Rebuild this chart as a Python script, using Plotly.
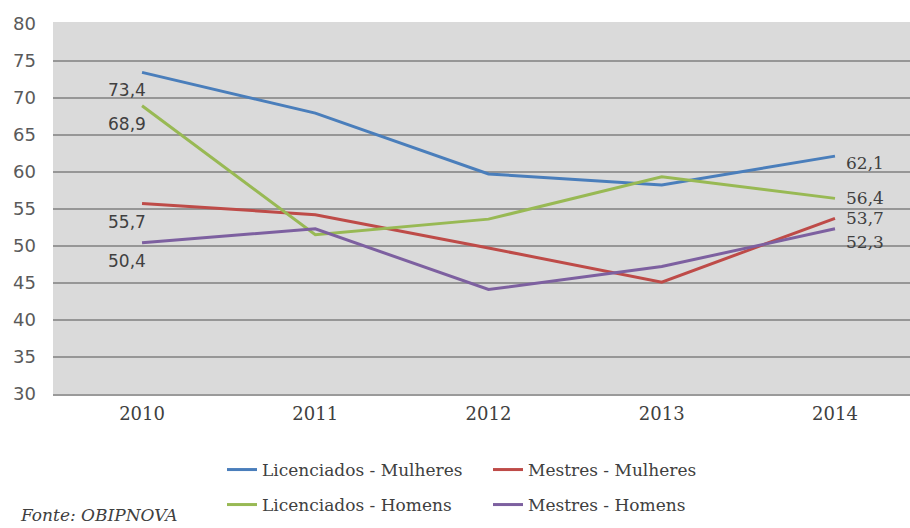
import plotly.graph_objects as go

# Categories and series
years = ["2010", "2011", "2012", "2013", "2014"]
lic_mulheres = [73.4, 67.9, 59.7, 58.2, 62.1]
mes_mulheres = [55.7, 54.2, 49.7, 45.1, 53.7]
lic_homens = [68.9, 51.5, 53.6, 59.3, 56.4]
mes_homens = [50.4, 52.3, 44.1, 47.2, 52.3]

series_names = ["Licenciados - Mulheres", "Mestres - Mulheres",
                "Licenciados - Homens", "Mestres - Homens"]
y_ticks = [30, 35, 40, 45, 50, 55, 60, 65, 70, 75, 80]
grid_levels = [35, 40, 45, 50, 55, 60, 65, 70, 75]

series = [lic_mulheres, mes_mulheres, lic_homens, mes_homens]
colors = ["#4a7ebb", "#be4b48", "#98b954", "#7d60a0"]
legend_of = ["legend", "legend", "legend2", "legend2"]
# vertical nudges (px) of the end labels so they don't collide
end_shift = [-7, 0, 0, -13]

W, H = 910, 528
M_L, M_R, M_T, M_B = 53, 0, 22, 134
PW, PH = W - M_L - M_R, H - M_T - M_B

fig = go.Figure()

for name, vals, col, lg in zip(series_names, series, colors, legend_of):
    fig.add_trace(go.Scatter(
        x=years, y=vals, name=name, mode="lines",
        line=dict(color=col, width=3), legend=lg,
        hoverinfo="skip",
    ))


def fmt(v):
    return f"{v:.1f}".replace(".", ",")


first_idx, last_idx = 0, len(years) - 1
annotations = []
for vals, shift in zip(series, end_shift):
    # first-year label, below-left of the point
    annotations.append(dict(
        x=first_idx, y=vals[first_idx], xref="x", yref="y",
        text=fmt(vals[first_idx]),
        showarrow=False, xanchor="right", yanchor="middle",
        xshift=6, yshift=-18,
        font=dict(family="DejaVu Sans", size=17, color="#404040"),
    ))
    # last-year label, right of the point
    annotations.append(dict(
        x=last_idx, y=vals[last_idx], xref="x", yref="y",
        text=fmt(vals[last_idx]),
        showarrow=False, xanchor="left", yanchor="middle",
        xshift=9, yshift=shift,
        font=dict(family="DejaVu Serif", size=17, color="#404040"),
    ))

# source note, bottom left
annotations.append(dict(
    x=(18 - M_L) / PW, y=(H - M_B - 515) / PH, xref="paper", yref="paper",
    text="<i>Fonte: OBIPNOVA</i>", showarrow=False,
    xanchor="left", yanchor="middle",
    font=dict(family="DejaVu Serif", size=17, color="#404040"),
))

legend_style = dict(
    orientation="h", xref="container", yref="container",
    xanchor="left", yanchor="middle", x=222 / W,
    bgcolor="rgba(0,0,0,0)", borderwidth=0,
    entrywidth=221, entrywidthmode="pixels",
    font=dict(family="DejaVu Serif", size=17, color="#404040"),
    itemclick=False, itemdoubleclick=False,
)

fig.update_layout(
    width=W, height=H,
    margin=dict(l=M_L, r=M_R, t=M_T, b=M_B),
    paper_bgcolor="white",
    plot_bgcolor="#dadada",
    showlegend=True,
    legend=dict(legend_style, y=1 - 470 / H),
    legend2=dict(legend_style, y=1 - 505 / H),
    annotations=annotations,
    xaxis=dict(
        type="category", range=[-0.514, 4.433],
        showgrid=False, zeroline=False,
        showline=True, linecolor="#9a9a9a", linewidth=2,
        ticks="", ticklabelstandoff=2,
        tickfont=dict(family="DejaVu Serif", size=18, color="#404040"),
    ),
    yaxis=dict(
        range=[30, 80.2], tickvals=y_ticks,
        showgrid=False, zeroline=False, showline=False,
        ticks="", ticklabelstandoff=16,
        tickfont=dict(family="DejaVu Sans", size=18, color="#5a5a5a"),
    ),
    yaxis2=dict(
        overlaying="y", matches="y", range=[30, 80.2],
        tickvals=grid_levels, showticklabels=False,
        showgrid=True, gridcolor="#969696", gridwidth=2,
        zeroline=False, showline=False, ticks="",
    ),
)

# invisible trace to attach the grid axis
fig.add_trace(go.Scatter(x=[years[0]], y=[grid_levels[0]], yaxis="y2",
                         mode="markers", marker=dict(opacity=0),
                         showlegend=False, hoverinfo="skip"))

fig.write_html("out.html")
